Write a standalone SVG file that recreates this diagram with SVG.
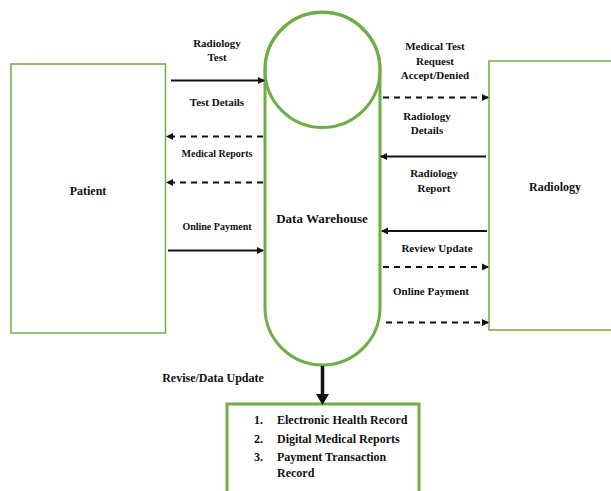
<svg xmlns="http://www.w3.org/2000/svg" width="611" height="491" viewBox="0 0 611 491">
<defs>
<style>
.node{fill:#fff;stroke:#70AD47;stroke-width:1.5}
.dw{fill:none;stroke:#70AD47;stroke-width:3}
.t{font-family:"Liberation Serif","Times New Roman",serif;font-weight:bold;fill:#111;text-anchor:middle}
.ls{font-family:"Liberation Serif","Times New Roman",serif;font-weight:bold;fill:#111;text-anchor:start;font-size:12px}
.s{font-size:11px}
.l{font-size:12px}
.solid{stroke:#111;stroke-width:2;fill:none}
.dash{stroke:#111;stroke-width:2;fill:none;stroke-dasharray:6,5}
</style>
<marker id="ah" markerWidth="8" markerHeight="8" refX="6" refY="4" orient="auto" markerUnits="userSpaceOnUse">
<path d="M0,0.5 L7,4 L0,7.5 Z" fill="#111"/>
</marker>
</defs>
<rect width="611" height="491" fill="#fff"/>
<g id="patient">
<rect class="node" x="11" y="64" width="154.5" height="269"/>
<text class="t l" x="88" y="195">Patient</text>
</g>
<g id="radiology">
<rect class="node" x="489" y="61" width="130" height="269"/>
<text class="t l" x="555" y="191">Radiology</text>
</g>
<g id="datawarehouse">
<rect class="dw" x="265" y="12" width="115" height="353" rx="57.5" ry="57.5"/>
<circle class="dw" cx="322.5" cy="70" r="57.5"/>
<text class="t" font-size="13" x="322" y="223">Data Warehouse</text>
</g>
<g id="records">
<rect x="227" y="404" width="192" height="95" fill="#fff" stroke="#70AD47" stroke-width="3"/>
<text class="ls" x="254" y="424">1.</text>
<text class="ls" x="277" y="424">Electronic Health Record</text>
<text class="ls" x="254" y="443">2.</text>
<text class="ls" x="277" y="443">Digital Medical Reports</text>
<text class="ls" x="254" y="461">3.</text>
<text class="ls" x="277" y="461">Payment Transaction</text>
<text class="ls" x="277" y="477">Record</text>
</g>
<g id="connectors">
<line class="solid" x1="171" y1="80.5" x2="264" y2="80.5" marker-end="url(#ah)"/>
<line class="dash" x1="263" y1="136.5" x2="167" y2="136.5" marker-end="url(#ah)"/>
<line class="dash" x1="263" y1="182.5" x2="167" y2="182.5" marker-end="url(#ah)"/>
<line class="solid" x1="168" y1="250.5" x2="263" y2="250.5" marker-end="url(#ah)"/>
<line class="dash" x1="383" y1="97.5" x2="488" y2="97.5" marker-end="url(#ah)"/>
<line class="solid" x1="486" y1="156.5" x2="381" y2="156.5" marker-end="url(#ah)"/>
<line class="solid" x1="487" y1="231" x2="382" y2="231" marker-end="url(#ah)"/>
<line class="dash" x1="383" y1="267" x2="488" y2="267" marker-end="url(#ah)"/>
<line class="dash" x1="386" y1="322.5" x2="488" y2="322.5" marker-end="url(#ah)"/>
<line x1="322.5" y1="366" x2="322.5" y2="398" stroke="#111" stroke-width="3.5"/>
<path d="M316,394 L322.5,405 L329,394 Z" fill="#111"/>
<text class="t s" x="217" y="47">Radiology</text>
<text class="t s" x="217" y="61">Test</text>
<text class="t s" x="217" y="106">Test Details</text>
<text class="t" font-size="10" x="217" y="157">Medical Reports</text>
<text class="t" font-size="10" x="217" y="230">Online Payment</text>
<text class="t s" x="435" y="50">Medical Test</text>
<text class="t s" x="435" y="65">Request</text>
<text class="t s" x="435" y="79">Accept/Denied</text>
<text class="t s" x="427" y="120">Radiology</text>
<text class="t s" x="427" y="134">Details</text>
<text class="t s" x="434" y="177">Radiology</text>
<text class="t s" x="434" y="192">Report</text>
<text class="t s" x="437" y="252">Review Update</text>
<text class="t s" x="431" y="295">Online Payment</text>
<text class="t l" x="213" y="382">Revise/Data Update</text>
</g>
</svg>
